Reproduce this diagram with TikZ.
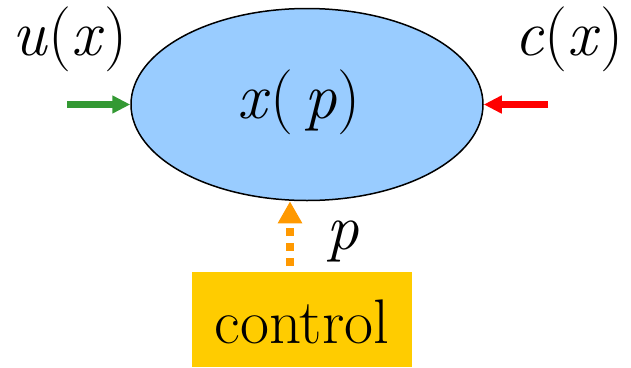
\documentclass[tikz,border=0pt]{standalone}
\usetikzlibrary{shapes.geometric,arrows.meta}
\definecolor{bluefill}{HTML}{99CCFF}
\definecolor{ctrlfill}{HTML}{FFCC00}
\definecolor{agreen}{HTML}{339933}
\definecolor{ared}{HTML}{FF0000}
\definecolor{aorange}{HTML}{FF9900}
\newcommand{\mv}[1]{\textit{#1}}
\tikzset{
  big/.style={font=\fontsize{65}{65}\selectfont, inner sep=0pt, anchor=base},
  word/.style={font=\fontsize{63}{63}\selectfont, inner sep=0pt, anchor=base},
  inarrow/.style={line width=6.5pt, -{Triangle[length=18pt,width=17pt]}},
}
\begin{document}
\begin{tikzpicture}[x=1pt,y=-1pt]
\useasboundingbox (0,0) rectangle (631,367);
\node[ellipse, draw=black, line width=1.5pt, fill=bluefill, minimum width=352pt, minimum height=192pt, inner sep=0pt] (e) at (307,104.5) {};
\node[big] (xp) at (299,118) {\mv{x}(\,\mv{p})};
\node[big] (ux) at (70,55) {\mv{u}(\mv{x})};
\node[big] (cx) at (569,55) {\mv{c}(\mv{x})};
\node[big] (pl) at (343,249) {\mv{p}};
\node[fill=ctrlfill, minimum width=220pt, minimum height=95pt, inner sep=0pt, anchor=north west] (ctrl) at (192,272) {};
\node[word] (ctxt) at (302,343) {control};
\coordinate (us) at (67,104.5);
\coordinate (cs) at (548,104.5);
\coordinate (ps) at (290,266);
\draw[inarrow, agreen] (us) -- (e.west);
\draw[inarrow, ared] (cs) -- (e.east);
\draw[aorange, line width=8pt, dash pattern=on 8pt off 7pt, -{Triangle[length=22pt,width=23pt]}] (ps) -- (e.south -| ps);
\end{tikzpicture}
\end{document}
